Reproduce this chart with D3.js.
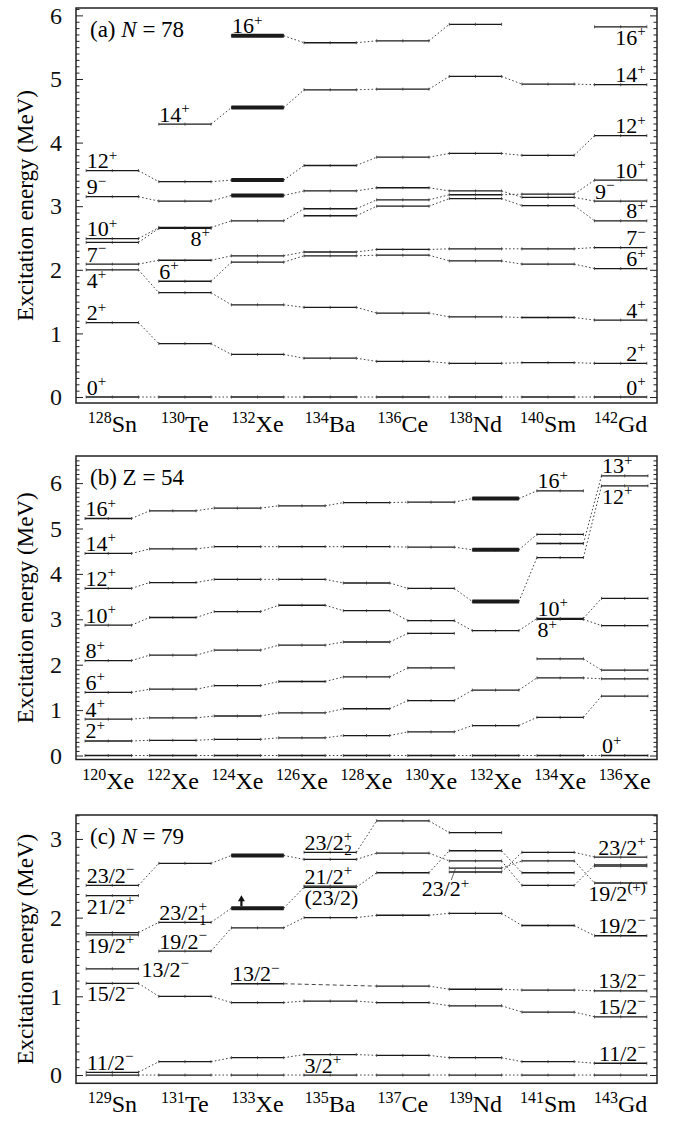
<!DOCTYPE html>
<html><head><meta charset="utf-8">
<script src="https://cdn.jsdelivr.net/npm/d3@7"></script>
<style>
body{margin:0;background:#fff}
svg{display:block}
</style>
</head><body>
<svg id="c" width="677" height="1121"></svg>
<script>
// ---------------- DATA ----------------
// Panel (a) N = 78 isotones
const massA = [128,130,132,134,136,138,140,142];
const elemA = ["Sn","Te","Xe","Ba","Ce","Nd","Sm","Gd"];
const ticksA = [0,1,2,3,4,5,6];
const chainsA = [
  {E:[0,0,0,0,0,0,0,0]},
  {E:[1.17,0.84,0.67,0.61,0.56,0.53,0.54,0.53]},
  {E:[2.00,1.64,1.45,1.41,1.32,1.26,1.25,1.21]},
  {E:[null,1.82,2.12,2.22,2.23,2.14,2.09,2.02]},
  {E:[2.09,2.15,2.22,2.28,2.32,2.33,2.33,2.35]},
  {E:[2.43,2.65,null,2.85,3.00,3.12,3.01,2.77]},
  {E:[2.49,2.665,2.77,2.96,3.10,3.18,3.19,3.41]},
  {E:[3.15,3.08,3.17,3.24,3.29,3.24,3.14,3.08]},
  {E:[3.56,3.385,3.41,3.64,3.77,3.83,3.80,4.11]},
  {E:[null,4.29,4.55,4.83,4.84,5.04,4.92,4.91]},
  {E:[null,null,5.68,5.57,5.60,5.86,null,5.82]}
];
const thickA = [[2,5.68],[2,4.55],[2,3.41],[2,3.17]];
const labelsA = [
  [0,3.56,"12","+",null,"a"],[0,3.15,"9","\u2212",null,"a"],[0,2.49,"10","+",null,"a"],
  [0,2.09,"7","\u2212",null,"a"],[0,2.00,"4","+",null,"b"],[0,1.17,"2","+",null,"a"],[0,0,"0","+",null,"a"],
  [1,4.29,"14","+",null,"a"],[1,2.66,"8","+",null,"br"],[1,1.82,"6","+",null,"a"],
  [2,5.68,"16","+",null,"a"],
  [7,5.82,"16","+",null,"br"],[7,4.91,"14","+",null,"ar"],[7,4.11,"12","+",null,"ar"],
  [7,3.41,"10","+",null,"ar"],[7,3.08,"9","\u2212",null,"a"],[7,2.77,"8","+",null,"ar"],
  [7,2.35,"7","\u2212",null,"ar"],[7,2.02,"6","+",null,"ar"],[7,1.21,"4","+",null,"ar"],
  [7,0.53,"2","+",null,"ar"],[7,0,"0","+",null,"ar"]
];

// Panel (b) Z = 54 isotopes
const massB = [120,122,124,126,128,130,132,134,136];
const elemB = ["Xe","Xe","Xe","Xe","Xe","Xe","Xe","Xe","Xe"];
const ticksB = [0,1,2,3,4,5,6];
const chainsB = [
  {E:[0,0,0,0,0,0,0,0,0]},
  {E:[0.32,0.335,0.355,0.39,0.44,0.52,0.66,0.84,1.31]},
  {E:[0.80,0.83,0.87,0.94,1.03,1.21,1.44,1.71,1.69]},
  {E:[1.39,1.46,1.54,1.63,1.73,1.93,null,2.13,1.88]},
  {E:[2.09,2.21,2.32,2.43,2.50,2.69,null,3.00,2.86]},
  {E:[2.87,3.04,3.17,3.31,3.19,2.97,2.75,3.02,3.46]},
  {E:[3.68,3.81,3.88,3.88,3.80,3.68,3.39,4.36,5.94]},
  {E:[null,null,null,null,null,null,null,4.67,6.16]},
  {E:[4.45,4.55,4.60,4.60,4.60,4.59,4.53,4.87,null]},
  {E:[5.22,5.39,5.45,5.50,5.57,5.58,5.66,5.83,null]}
];
const thickB = [[6,3.39],[6,4.53],[6,5.66]];
const labelsB = [
  [0,5.22,"16","+",null,"a"],[0,4.45,"14","+",null,"a"],[0,3.68,"12","+",null,"a"],
  [0,2.87,"10","+",null,"a"],[0,2.09,"8","+",null,"a"],[0,1.39,"6","+",null,"a"],
  [0,0.80,"4","+",null,"a"],[0,0.32,"2","+",null,"a"],
  [7,5.83,"16","+",null,"a"],[7,3.02,"10","+",null,"a"],[7,3.00,"8","+",null,"b"],
  [8,6.16,"13","+",null,"a"],[8,5.94,"12","+",null,"b"],[8,0,"0","+",null,"a"]
];

// Panel (c) N = 79 isotones
const massC = [129,131,133,135,137,139,141,143];
const elemC = ["Sn","Te","Xe","Ba","Ce","Nd","Sm","Gd"];
const ticksC = [0,1,2,3];
const chainsC = [
  {E:[0,0,0,0,0,0,0,0]},
  {E:[0.035,0.17,0.22,0.26,0.25,0.22,0.17,0.15]},
  {E:[1.165,1.00,0.92,0.94,0.92,0.88,0.80,0.74]},
  {E:[1.35,null,null,null,null,null,null,null]},
  {E:[null,null,1.16,null,1.13,1.09,1.08,1.07], bridge:true},
  {E:[null,1.575,1.87,2.00,2.03,2.055,1.90,1.77]},
  {E:[1.78,null,null,null,null,null,null,null]},
  {E:[2.28,null,null,null,null,null,null,null]},
  {E:[1.81,1.94,2.12,2.385,2.57,2.85,2.57,null]},
  {E:[2.41,2.69,2.79,2.74,2.82,2.72,2.41,2.67]},
  {E:[null,null,null,2.83,3.23,3.08,null,null]},
  {E:[null,null,null,2.40,null,null,null,null]},
  {E:[null,null,null,null,null,2.63,2.72,2.44]},
  {E:[null,null,null,null,null,2.58,2.83,2.77]},
  {E:[null,null,null,null,null,null,null,2.655]}
];
const thickC = [[2,2.12],[2,2.79]];
const arrowsC = [[2,2.12]];
const labelsC = [
  [0,2.41,"23/2","\u2212",null,"a"],[0,2.28,"21/2","+",null,"b"],[0,1.78,"19/2","+",null,"b"],
  [0,1.35,"13/2","\u2212",null,"r"],[0,1.165,"15/2","\u2212",null,"b"],[0,0.035,"11/2","\u2212",null,"a"],
  [1,1.94,"23/2","+","1","a"],[1,1.575,"19/2","\u2212",null,"a"],
  [2,1.16,"13/2","\u2212",null,"a"],
  [3,2.83,"23/2","+","2","a"],[3,2.40,"21/2","+",null,"a"],[3,2.385,"(23/2)",null,null,"b"],
  [3,0.26,"3/2","+",null,"b"],
  [5,2.63,"23/2","+",null,"lead"],
  [7,2.77,"23/2","+",null,"ar"],[7,2.44,"19/2","(+)",null,"br"],[7,1.77,"19/2","\u2212",null,"ar"],
  [7,1.07,"13/2","\u2212",null,"ar"],[7,0.74,"15/2","\u2212",null,"ar"],[7,0.15,"11/2","\u2212",null,"ar"]
];

const titleA = ["(a) ","N"," = 78"];
const titleB = ["(b) ","Z"," = 54"];
const titleC = ["(c) ","N"," = 79"];
const yTitle = "Excitation energy (MeV)";

// ---------------- LAYOUT ----------------
const FONT = '"Liberation Serif","Times New Roman",Times,serif';
const L = 76, R = 657;
const svg = d3.select("#c").style("font-family", FONT);

function drawLabel(g, x, y, anchor, main, sup, sub) {
  const t = g.append("text").attr("x", x).attr("y", y).attr("text-anchor", anchor)
    .attr("font-size", 22).style("font-family", FONT);
  const tm = t.append("tspan").text(main);
  if (sup) t.append("tspan").attr("font-size", 15).attr("dy", -8.5).text(sup);
  if (sub) {
    const w = tm.node().getComputedTextLength();
    g.append("text").attr("x", x + w + 0.5).attr("y", y + 5).attr("font-size", 15)
      .style("font-family", FONT).text(sub);
  }
}

function panel(cfg) {
  const g = svg.append("g");
  const n = cfg.mass.length;
  const x = d3.scaleBand().domain(d3.range(n)).range([L, R]);
  const y = d3.scaleLinear().domain(cfg.dom).range([cfg.bottom, cfg.top]);
  const bw = x.bandwidth(), lw = bw * 0.72;
  const x0 = i => x(i) + (bw - lw) / 2, x1 = i => x0(i) + lw;

  // connectors
  cfg.chains.forEach(ch => {
    let prev = null;
    ch.E.forEach((v, i) => {
      if (v == null) { if (!ch.bridge) prev = null; return; }
      if (prev) {
        const skipped = i - prev.i > 1;
        g.append("line")
          .attr("x1", x1(prev.i)).attr("y1", y(prev.v))
          .attr("x2", x0(i)).attr("y2", y(v))
          .attr("stroke", "#444").attr("stroke-width", 1)
          .attr("stroke-dasharray", skipped ? "4,3" : "1.6,2.2");
      }
      prev = {i, v};
    });
  });

  // levels
  const levels = [];
  cfg.chains.forEach(ch => ch.E.forEach((v, i) => { if (v != null) levels.push([i, v]); }));
  g.selectAll(".lev").data(levels).join("line")
    .attr("x1", d => x0(d[0])).attr("x2", d => x1(d[0]))
    .attr("y1", d => y(d[1])).attr("y2", d => y(d[1]))
    .attr("stroke", "#1a1a1a").attr("stroke-width", 1.3);
  levels.forEach(d => {
    [x0(d[0]), (x0(d[0]) + x1(d[0])) / 2, x1(d[0])].forEach(px => {
      g.append("line").attr("x1", px).attr("x2", px)
        .attr("y1", y(d[1]) - 1.5).attr("y2", y(d[1]) + 1.5)
        .attr("stroke", "#333").attr("stroke-width", 0.8);
    });
  });
  g.selectAll(".thk").data(cfg.thick).join("line")
    .attr("x1", d => x0(d[0])).attr("x2", d => x1(d[0]))
    .attr("y1", d => y(d[1])).attr("y2", d => y(d[1]))
    .attr("stroke", "#1a1a1a").attr("stroke-width", 4);
  (cfg.arrows || []).forEach(d => {
    const ax = x0(d[0]) + 10, ay = y(d[1]);
    g.append("line").attr("x1", ax).attr("x2", ax).attr("y1", ay - 2).attr("y2", ay - 8)
      .attr("stroke", "#111").attr("stroke-width", 2.2);
    g.append("path").attr("d", `M${ax - 3.5},${ay - 7} L${ax + 3.5},${ay - 7} L${ax},${ay - 13} Z`)
      .attr("fill", "#111");
  });

  // labels
  cfg.labels.forEach(([i, v, main, sup, sub, pos]) => {
    const yy = y(v);
    if (pos === "a") drawLabel(g, x0(i) + 0.5, yy - 2.5, "start", main, sup, sub);
    else if (pos === "b") drawLabel(g, x0(i) + 0.5, yy + 18, "start", main, sup, sub);
    else if (pos === "ar") drawLabel(g, x1(i) - 1, yy - 2.5, "end", main, sup, sub);
    else if (pos === "br") drawLabel(g, x1(i) - 1, yy + 18, "end", main, sup, sub);
    else if (pos === "r") drawLabel(g, x1(i) + 3, yy + 8, "start", main, sup, sub);
    else if (pos === "lead") {
      g.append("line").attr("x1", x0(i) + 6).attr("y1", yy + 1)
        .attr("x2", x0(i) + 2).attr("y2", yy + 12).attr("stroke", "#444").attr("stroke-width", 0.8);
      drawLabel(g, x0(i) + 20, yy + 28, "end", main, sup, sub);
    }
  });

  // frame
  g.append("rect").attr("x", L).attr("y", cfg.top).attr("width", R - L).attr("height", cfg.bottom - cfg.top)
    .attr("fill", "none").attr("stroke", "#222").attr("stroke-width", 1.5);

  // ticks
  const minors = d3.range(Math.ceil(cfg.dom[0] * 10), Math.floor(cfg.dom[1] * 10) + 1)
    .filter(k => k % 10 !== 0).map(k => k / 10);
  const axL = g.append("g").attr("transform", `translate(${L},0)`)
    .call(d3.axisLeft(y).tickValues(cfg.ticks).tickSizeInner(-7).tickSizeOuter(0).tickPadding(14).tickFormat(d3.format("d")));
  axL.attr("font-size", 24).attr("font-family", null);
  axL.selectAll("text").style("font-family", FONT).attr("fill", "#111");
  axL.select(".domain").remove();
  const axLm = g.append("g").attr("transform", `translate(${L},0)`)
    .call(d3.axisLeft(y).tickValues(minors).tickSizeInner(-3.5).tickSizeOuter(0).tickFormat(""));
  axLm.select(".domain").remove();
  const axR = g.append("g").attr("transform", `translate(${R},0)`)
    .call(d3.axisRight(y).tickValues(cfg.ticks).tickSizeInner(-7).tickSizeOuter(0).tickFormat(""));
  axR.select(".domain").remove();
  const axRm = g.append("g").attr("transform", `translate(${R},0)`)
    .call(d3.axisRight(y).tickValues(minors).tickSizeInner(-3.5).tickSizeOuter(0).tickFormat(""));
  axRm.select(".domain").remove();
  g.selectAll(".tick line").attr("stroke", "#222");

  // x labels
  cfg.mass.forEach((m, i) => {
    const t = g.append("text").attr("x", x(i) + bw / 2).attr("y", cfg.bottom + 29)
      .attr("text-anchor", "middle").attr("font-size", 24).style("font-family", FONT);
    t.append("tspan").attr("font-size", 16).attr("dy", -9).text(m);
    t.append("tspan").attr("dy", 9).text(cfg.elem[i]);
  });

  // panel title
  const tt = g.append("text").attr("x", 90).attr("y", cfg.top + 28.5).attr("font-size", 23)
    .style("font-family", FONT).style("white-space", "pre");
  tt.append("tspan").text(cfg.title[0]);
  tt.append("tspan").attr("font-style", cfg.title[1] === "N" ? "italic" : "normal").text(cfg.title[1]);
  tt.append("tspan").text(cfg.title[2]);

  // y title
  g.append("text").attr("transform", `translate(33,${(cfg.top + cfg.bottom) / 2}) rotate(-90)`)
    .attr("text-anchor", "middle").attr("font-size", 23).style("font-family", FONT).text(yTitle);
}

panel({mass: massA, elem: elemA, ticks: ticksA, chains: chainsA, thick: thickA, labels: labelsA,
  title: titleA, top: 8, bottom: 403, dom: [-0.094, 6.116]});
panel({mass: massB, elem: elemB, ticks: ticksB, chains: chainsB, thick: thickB, labels: labelsB,
  title: titleB, top: 456, bottom: 759.5, dom: [-0.088, 6.597]});
panel({mass: massC, elem: elemC, ticks: ticksC, chains: chainsC, thick: thickC, labels: labelsC,
  arrows: arrowsC, title: titleC, top: 815, bottom: 1083.3, dom: [-0.105, 3.304]});
</script>
</body></html>
